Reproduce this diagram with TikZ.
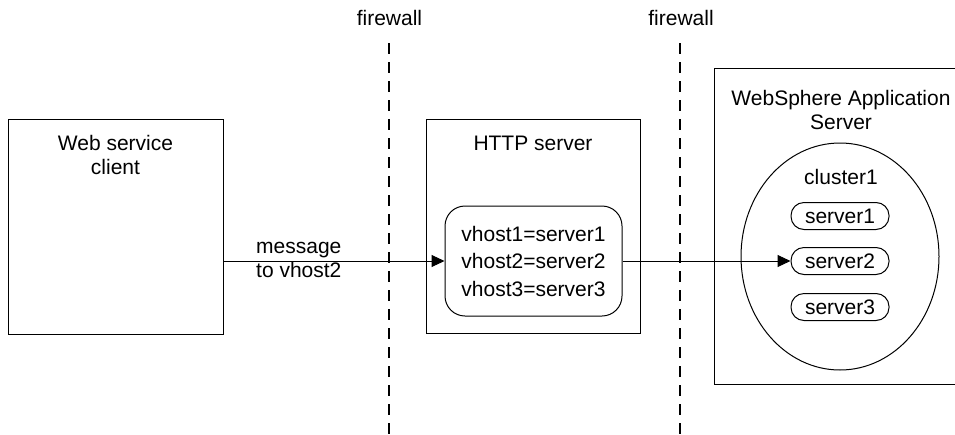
\documentclass[tikz,border=0pt]{standalone}
\usepackage{fontspec}
\setmainfont{Liberation Sans}
\usetikzlibrary{arrows.meta,positioning,shapes.geometric}

\begin{document}
\begin{tikzpicture}[x=1pt,y=-1pt,
    every node/.style={font=\fontsize{21}{24}\selectfont},
    box/.style={draw,line width=1pt,inner sep=0pt},
    txt/.style={inner sep=0pt,align=center},
    pill/.style={draw,line width=1pt,rounded corners=13pt,minimum width=98pt,minimum height=27pt,inner sep=0pt},
    wall/.style={line width=2pt,dash pattern=on 11pt off 8pt},
    msg/.style={line width=1pt,-{Triangle[length=13pt,width=12pt]}}]
  \clip (0,0) rectangle (955,434);
  % firewalls
  \node[txt] (fw1) at (389.5,18) {firewall};
  \node[txt] (fw2) at (681,18) {firewall};
  \coordinate (fw1top) at (389,43);
  \coordinate (fw1bot) at (389,434);
  \coordinate (fw2top) at (680,43);
  \coordinate (fw2bot) at (680,434);
  \draw[wall] (fw1top) -- (fw1bot);
  \draw[wall] (fw2top) -- (fw2bot);
  % client
  \node[box,minimum width=215pt,minimum height=215pt] (client) at (115.5,226.5) {};
  \node[txt,below=17pt of client.north] (clienttxt) {Web service\\client};
  % http server
  \node[box,minimum width=214pt,minimum height=214pt] (http) at (533,226) {};
  \node[txt,below=17pt of http.north] (httptxt) {HTTP server};
  \node[box,rounded corners=20pt,minimum width=177pt,minimum height=110pt] (vhosts) at (533.5,261) {};
  \node[txt,font=\fontsize{21}{27.5}\selectfont] (vhosttxt) at (vhosts) {vhost1=server1\\vhost2=server2\\vhost3=server3};
  % application server
  \node[box,minimum width=254pt,minimum height=316pt] (was) at (841,226) {};
  \node[txt,below=23pt of was.north] (wastxt) {WebSphere Application\\Server};
  \node[box,ellipse,minimum width=198pt,minimum height=227pt] (cluster) at (840,256.5) {};
  \node[txt] (clustertxt) at (841,177) {cluster1};
  \node[pill] (s1) at (840,216) {server1};
  \node[pill] (s2) at (840,261) {server2};
  \node[pill] (s3) at (840,307) {server3};
  % messages
  \draw[msg] (client.east |- vhosts.west) -- (vhosts.west);
  \node[txt,align=left,anchor=west] (msgtxt) at (256,260) {message\\to vhost2};
  \draw[msg] (vhosts.east) -- (s2.west);
\end{tikzpicture}
\end{document}
